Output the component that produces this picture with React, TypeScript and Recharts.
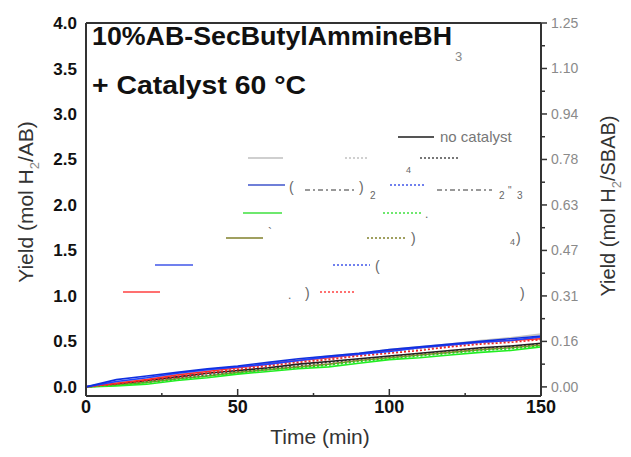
import React from 'react';
import { LineChart, Line, XAxis, YAxis, ReferenceLine } from 'recharts';

// time axis (min)
const times = [0, 10, 20, 30, 40, 50, 60, 70, 80, 90, 100, 110, 120, 130, 140, 150];

// yield, mol H2 / AB
const noCatalyst = [0, 0.03, 0.07, 0.11, 0.15, 0.18, 0.21, 0.25, 0.28, 0.31, 0.34, 0.37, 0.4, 0.43, 0.45, 0.48];
const graySolid = [0, 0.05, 0.1, 0.14, 0.18, 0.22, 0.26, 0.3, 0.34, 0.37, 0.41, 0.44, 0.47, 0.51, 0.54, 0.58];
const grayDotted = [0, 0.04, 0.08, 0.12, 0.16, 0.2, 0.24, 0.28, 0.31, 0.35, 0.38, 0.42, 0.45, 0.48, 0.51, 0.54];
const blackDotted = [0, 0.03, 0.06, 0.1, 0.13, 0.17, 0.2, 0.23, 0.27, 0.3, 0.33, 0.36, 0.39, 0.42, 0.44, 0.47];
const oliveSolid = [0, 0.02, 0.05, 0.09, 0.12, 0.16, 0.19, 0.22, 0.25, 0.29, 0.32, 0.35, 0.38, 0.41, 0.43, 0.46];
const greenSolid = [0, 0.01, 0.03, 0.07, 0.1, 0.14, 0.17, 0.2, 0.22, 0.26, 0.3, 0.32, 0.35, 0.38, 0.4, 0.44];
const greenDotted = [0, 0.02, 0.05, 0.08, 0.12, 0.15, 0.19, 0.21, 0.24, 0.28, 0.31, 0.34, 0.37, 0.4, 0.42, 0.45];
const redDotted = [0, 0.03, 0.07, 0.11, 0.15, 0.19, 0.23, 0.27, 0.3, 0.34, 0.37, 0.4, 0.44, 0.47, 0.49, 0.52];
const redSolid = [0, 0.04, 0.08, 0.13, 0.17, 0.21, 0.25, 0.29, 0.32, 0.36, 0.4, 0.43, 0.46, 0.49, 0.51, 0.53];
const blueSolidB = [0, 0.06, 0.1, 0.15, 0.19, 0.22, 0.25, 0.29, 0.33, 0.36, 0.39, 0.43, 0.46, 0.49, 0.51, 0.55];
const blueSolidA = [0, 0.08, 0.12, 0.16, 0.2, 0.23, 0.27, 0.31, 0.34, 0.37, 0.41, 0.44, 0.47, 0.5, 0.53, 0.56];

// ticks
const xTicks = [0, 25, 50, 75, 100, 125, 150];
const xMajor = [0, 50, 100, 150];
const leftTicks = [0, 0.5, 1, 1.5, 2, 2.5, 3, 3.5, 4];
const rightTickPos = [0, 0.25, 0.5, 0.75, 1, 1.25, 1.5, 1.75, 2, 2.25, 2.5, 2.75, 3, 3.25, 3.5, 3.75, 4];
const rightTickLabels = ['0.00', '0.16', '0.31', '0.47', '0.63', '0.78', '0.94', '1.10', '1.25'];

// axis: which y axis the series is drawn against (both share one scale)
const series = [
  { key: 'graySolid', values: graySolid, color: '#c4c4c4', dash: undefined, axis: 'left' },
  { key: 'grayDotted', values: grayDotted, color: '#b0b0b0', dash: '2 2', axis: 'left' },
  { key: 'blackDotted', values: blackDotted, color: '#444', dash: '2 2', axis: 'left' },
  { key: 'noCatalyst', values: noCatalyst, color: '#222', dash: undefined, axis: 'right' },
  { key: 'oliveSolid', values: oliveSolid, color: '#8a8a30', dash: undefined, axis: 'left' },
  { key: 'greenDotted', values: greenDotted, color: '#22cc22', dash: '2 2', axis: 'left' },
  { key: 'greenSolid', values: greenSolid, color: '#22ee22', dash: undefined, axis: 'left' },
  { key: 'redDotted', values: redDotted, color: '#ee2222', dash: '2 2', axis: 'left' },
  { key: 'redSolid', values: redSolid, color: '#ff2a2a', dash: undefined, axis: 'left' },
  { key: 'blueSolidB', values: blueSolidB, color: '#2040ff', dash: undefined, axis: 'left' },
  { key: 'blueSolidA', values: blueSolidA, color: '#1030e0', dash: undefined, axis: 'left' },
];

const data = times.map((t, i) => {
  const row: Record<string, number> = { t };
  series.forEach(s => { row[s.key] = s.values[i]; });
  return row;
});

// faded legend (layout only)
const legendSamples = [
  { x1: 398, x2: 434, y: 137, color: '#555', dash: undefined },
  { x1: 248, x2: 283, y: 158, color: '#cfcfcf', dash: undefined },
  { x1: 345, x2: 367, y: 158, color: '#d0d0d0', dash: '2 2' },
  { x1: 420, x2: 460, y: 158, color: '#777', dash: '2 2' },
  { x1: 248, x2: 285, y: 185, color: '#6f7fd8', dash: undefined },
  { x1: 305, x2: 356, y: 190, color: '#999', dash: '5 3 2 3' },
  { x1: 390, x2: 425, y: 185, color: '#7080ee', dash: '2 2' },
  { x1: 437, x2: 492, y: 190, color: '#999', dash: '5 3 2 3' },
  { x1: 243, x2: 282, y: 213, color: '#6ee86e', dash: undefined },
  { x1: 383, x2: 423, y: 213, color: '#6ee86e', dash: '2 2' },
  { x1: 226, x2: 263, y: 238, color: '#a0a060', dash: undefined },
  { x1: 367, x2: 405, y: 238, color: '#a0a060', dash: '2 2' },
  { x1: 155, x2: 193, y: 265, color: '#7080ee', dash: undefined },
  { x1: 333, x2: 370, y: 265, color: '#7080ee', dash: '2 2' },
  { x1: 123, x2: 160, y: 292, color: '#ff7070', dash: undefined },
  { x1: 320, x2: 355, y: 292, color: '#ff7070', dash: '2 2' },
];

const legendBits = [
  { x: 406, y: 173, t: '4', size: 9 },
  { x: 289, y: 192, t: '(', size: 14 },
  { x: 359, y: 192, t: ')', size: 14 },
  { x: 370, y: 199, t: '2', size: 10 },
  { x: 499, y: 199, t: '2', size: 10 },
  { x: 508, y: 194, t: '"', size: 10 },
  { x: 517, y: 199, t: '3', size: 10 },
  { x: 425, y: 218, t: '.', size: 12 },
  { x: 268, y: 237, t: '`', size: 12 },
  { x: 411, y: 243, t: ')', size: 14 },
  { x: 510, y: 245, t: '4', size: 9 },
  { x: 516, y: 243, t: ')', size: 14 },
  { x: 375, y: 271, t: '(', size: 14 },
  { x: 288, y: 299, t: '.', size: 12 },
  { x: 305, y: 298, t: ')', size: 14 },
  { x: 520, y: 298, t: ')', size: 14 },
];

const FONT = '"Liberation Sans", Arial, sans-serif';

const XTick = (props: any) => {
  const { x, y, payload } = props;
  const major = xMajor.includes(payload.value);
  return (
    <g>
      <line x1={x} x2={x} y1={y} y2={y - (major ? 7 : 3)} stroke="#333" strokeWidth={1.5} />
      {major && (
        <text x={x} y={y + 17} textAnchor="middle" fontSize={18} fontWeight="bold" fill="#111" fontFamily={FONT}>
          {payload.value}
        </text>
      )}
    </g>
  );
};

const RightTick = (props: any) => {
  const { x, y, payload } = props;
  const idx = payload.value / 0.5;
  const major = Number.isInteger(idx);
  return (
    <g>
      <line x1={x} x2={x + (major ? 6 : 4)} y1={y} y2={y} stroke="#333" strokeWidth={1.5} />
      {major && (
        <text x={x + 10} y={y + 5} textAnchor="start" fontSize={14} fill="#8a8a8a" fontFamily={FONT}>
          {rightTickLabels[idx]}
        </text>
      )}
    </g>
  );
};

export default function App() {
  return (
    <div style={{ position: 'fixed', left: 0, top: 0, width: 631, height: 457, background: '#fff' }}>
      <LineChart width={631} height={457} data={data} margin={{ top: 23, right: 30, bottom: 31, left: 30 }}>
        <XAxis
          dataKey="t"
          type="number"
          domain={[0, 150]}
          ticks={xTicks}
          interval={0}
          tickSize={0}
          tickMargin={0}
          tick={XTick}
          height={30}
          axisLine={{ stroke: '#333', strokeWidth: 2 }}
        />
        <YAxis
          yAxisId="left"
          type="number"
          domain={[-0.1, 4]}
          ticks={leftTicks}
          interval={0}
          tickSize={0}
          tickMargin={9}
          tickLine={false}
          tickFormatter={(v: number) => v.toFixed(1)}
          tick={{ fontSize: 17, fontWeight: 'bold', fill: '#111', fontFamily: FONT }}
          width={56}
          axisLine={{ stroke: '#333', strokeWidth: 2 }}
        />
        <YAxis
          yAxisId="right"
          orientation="right"
          type="number"
          domain={[-0.1, 4]}
          ticks={rightTickPos}
          interval={0}
          tickSize={0}
          tickMargin={0}
          tick={RightTick}
          width={60}
          axisLine={{ stroke: '#333', strokeWidth: 2 }}
        />
        <ReferenceLine yAxisId="left" y={4} stroke="#333" strokeWidth={2} />
        {series.map(s => (
          <Line
            key={s.key}
            yAxisId={s.axis}
            dataKey={s.key}
            stroke={s.color}
            strokeWidth={1.6}
            strokeDasharray={s.dash}
            dot={false}
            isAnimationActive={false}
          />
        ))}
      </LineChart>
      <svg width={631} height={457} style={{ position: 'absolute', left: 0, top: 0, pointerEvents: 'none' }} fontFamily={FONT}>
        <text x={92} y={45} fontSize={25} fontWeight="bold" fill="#111" textLength={360} lengthAdjust="spacingAndGlyphs">10%AB-SecButylAmmineBH</text>
        <text x={455} y={61} fontSize={13} fill="#888">3</text>
        <text x={92} y={94} fontSize={25} fontWeight="bold" fill="#111" textLength={214} lengthAdjust="spacingAndGlyphs">+ Catalyst 60 °C</text>
        {legendSamples.map((l, i) => (
          <line key={i} x1={l.x1} x2={l.x2} y1={l.y} y2={l.y} stroke={l.color} strokeWidth={2} strokeDasharray={l.dash} />
        ))}
        <text x={440} y={142} fontSize={15} fill="#777">no catalyst</text>
        {legendBits.map((b, i) => (
          <text key={i} x={b.x} y={b.y} fontSize={b.size} fill="#666">{b.t}</text>
        ))}
        <text x={320} y={444} textAnchor="middle" fontSize={21} fill="#333">Time (min)</text>
        <text transform="translate(33,202) rotate(-90)" textAnchor="middle" fontSize={21} fill="#333">
          Yield (mol H<tspan fontSize={13} dy={6} fill="#888">2</tspan><tspan dy={-6}>/AB)</tspan>
        </text>
        <text transform="translate(615,206) rotate(-90)" textAnchor="middle" fontSize={20} fill="#333">
          Yield (mol H<tspan fontSize={13} dy={6} fill="#888">2</tspan><tspan dy={-6}>/SBAB)</tspan>
        </text>
      </svg>
    </div>
  );
}
